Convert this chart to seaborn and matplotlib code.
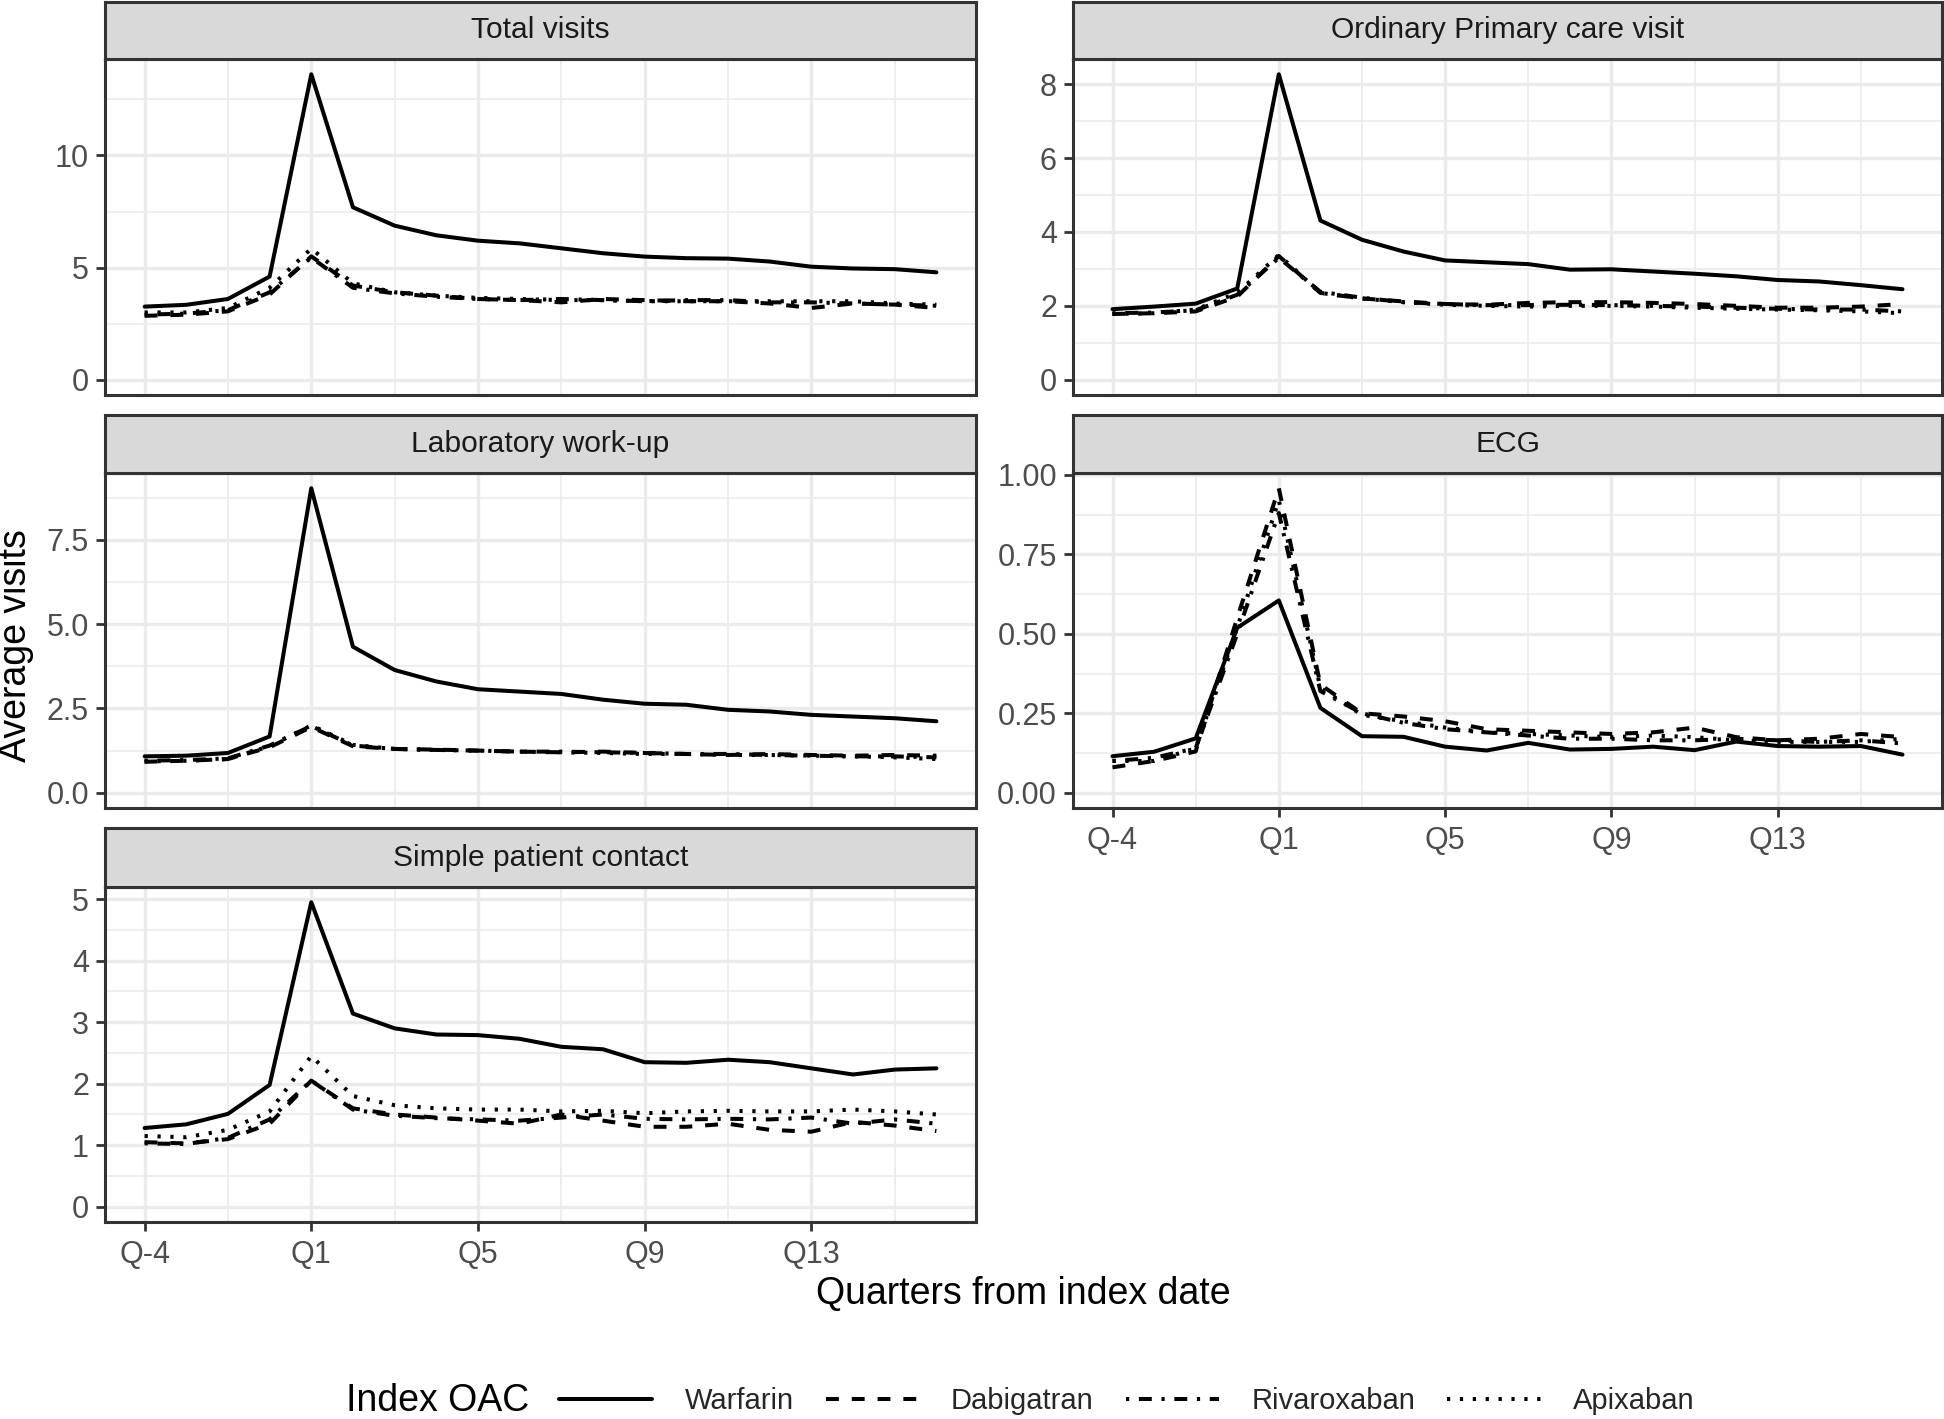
import numpy as np
import pandas as pd
import matplotlib
matplotlib.use("Agg")
import matplotlib.pyplot as plt
from matplotlib.lines import Line2D
from matplotlib.ticker import MultipleLocator, AutoMinorLocator, FixedLocator
import seaborn as sns

# ---------------- data ----------------
quarters = ["Q-4", "Q-3", "Q-2", "Q-1"] + [f"Q{i}" for i in range(1, 17)]
drugs = ["Warfarin", "Dabigatran", "Rivaroxaban", "Apixaban"]

total_warfarin = [3.26, 3.34, 3.60, 4.60, 13.62, 7.69, 6.87, 6.44, 6.20, 6.08, 5.86, 5.64, 5.49, 5.42, 5.40, 5.27, 5.04, 4.96, 4.93, 4.79]
total_dabigatran = [2.85, 2.90, 3.05, 3.80, 5.50, 4.20, 3.90, 3.75, 3.60, 3.55, 3.45, 3.60, 3.55, 3.50, 3.50, 3.40, 3.20, 3.40, 3.35, 3.20]
total_rivaroxaban = [2.90, 2.95, 3.10, 3.90, 5.45, 4.10, 3.85, 3.70, 3.60, 3.55, 3.60, 3.55, 3.50, 3.55, 3.55, 3.45, 3.45, 3.40, 3.35, 3.30]
total_apixaban = [3.00, 3.00, 3.20, 4.10, 5.85, 4.30, 3.90, 3.75, 3.65, 3.60, 3.55, 3.55, 3.50, 3.50, 3.50, 3.50, 3.50, 3.50, 3.40, 3.35]

ordinary_warfarin = [1.91, 1.98, 2.06, 2.47, 8.27, 4.31, 3.79, 3.47, 3.23, 3.18, 3.13, 2.98, 2.99, 2.93, 2.87, 2.80, 2.70, 2.66, 2.56, 2.45]
ordinary_dabigatran = [1.78, 1.80, 1.85, 2.25, 3.35, 2.35, 2.20, 2.12, 2.05, 2.03, 2.08, 2.10, 2.10, 2.08, 2.05, 2.00, 1.95, 1.95, 1.98, 2.05]
ordinary_rivaroxaban = [1.80, 1.82, 1.88, 2.30, 3.30, 2.38, 2.22, 2.10, 2.05, 2.02, 2.02, 2.03, 2.02, 2.00, 1.98, 1.95, 1.92, 1.90, 1.90, 1.85]
ordinary_apixaban = [1.78, 1.80, 1.90, 2.35, 3.38, 2.35, 2.20, 2.10, 2.03, 2.00, 1.98, 2.00, 2.00, 1.98, 1.95, 1.92, 1.90, 1.88, 1.85, 1.80]

lab_warfarin = [1.08, 1.10, 1.18, 1.67, 9.03, 4.33, 3.64, 3.30, 3.07, 3.00, 2.93, 2.76, 2.64, 2.61, 2.46, 2.41, 2.31, 2.26, 2.21, 2.12]
lab_dabigatran = [0.92, 0.95, 1.00, 1.35, 1.95, 1.38, 1.30, 1.28, 1.25, 1.22, 1.20, 1.22, 1.18, 1.15, 1.12, 1.15, 1.12, 1.10, 1.12, 1.10]
lab_rivaroxaban = [0.95, 0.97, 1.02, 1.40, 1.98, 1.40, 1.30, 1.27, 1.25, 1.22, 1.22, 1.20, 1.18, 1.15, 1.15, 1.12, 1.10, 1.08, 1.08, 1.05]
lab_apixaban = [0.93, 0.95, 1.00, 1.38, 2.00, 1.42, 1.30, 1.27, 1.25, 1.22, 1.20, 1.18, 1.15, 1.15, 1.12, 1.12, 1.10, 1.08, 1.05, 1.00]

ecg_warfarin = [0.115, 0.129, 0.171, 0.519, 0.605, 0.267, 0.178, 0.176, 0.145, 0.133, 0.157, 0.136, 0.138, 0.145, 0.134, 0.161, 0.147, 0.145, 0.147, 0.120]
ecg_dabigatran = [0.080, 0.100, 0.130, 0.550, 0.958, 0.340, 0.250, 0.240, 0.225, 0.200, 0.195, 0.190, 0.185, 0.190, 0.205, 0.175, 0.165, 0.170, 0.185, 0.175]
ecg_rivaroxaban = [0.100, 0.110, 0.140, 0.500, 0.880, 0.320, 0.250, 0.220, 0.200, 0.190, 0.180, 0.170, 0.170, 0.165, 0.165, 0.170, 0.165, 0.160, 0.165, 0.155]
ecg_apixaban = [0.100, 0.100, 0.140, 0.520, 0.920, 0.330, 0.245, 0.225, 0.205, 0.190, 0.185, 0.180, 0.175, 0.180, 0.175, 0.165, 0.160, 0.160, 0.160, 0.170]

simple_warfarin = [1.28, 1.34, 1.51, 1.98, 4.95, 3.14, 2.90, 2.80, 2.79, 2.73, 2.60, 2.56, 2.35, 2.34, 2.39, 2.35, 2.25, 2.15, 2.23, 2.25]
simple_dabigatran = [1.05, 1.03, 1.10, 1.35, 2.05, 1.60, 1.50, 1.45, 1.40, 1.35, 1.50, 1.40, 1.30, 1.30, 1.35, 1.25, 1.22, 1.38, 1.32, 1.23]
simple_rivaroxaban = [1.03, 1.02, 1.12, 1.42, 2.05, 1.58, 1.48, 1.44, 1.42, 1.40, 1.45, 1.50, 1.43, 1.42, 1.43, 1.42, 1.45, 1.35, 1.42, 1.35]
simple_apixaban = [1.15, 1.13, 1.25, 1.55, 2.45, 1.80, 1.65, 1.60, 1.58, 1.58, 1.55, 1.56, 1.52, 1.55, 1.56, 1.55, 1.55, 1.58, 1.55, 1.50]

facet_titles = ["Total visits", "Ordinary Primary care visit", "Laboratory work-up", "ECG", "Simple patient contact"]
facet_series = [
    [total_warfarin, total_dabigatran, total_rivaroxaban, total_apixaban],
    [ordinary_warfarin, ordinary_dabigatran, ordinary_rivaroxaban, ordinary_apixaban],
    [lab_warfarin, lab_dabigatran, lab_rivaroxaban, lab_apixaban],
    [ecg_warfarin, ecg_dabigatran, ecg_rivaroxaban, ecg_apixaban],
    [simple_warfarin, simple_dabigatran, simple_rivaroxaban, simple_apixaban],
]
y_major_steps = [5, 2, 2.5, 0.25, 1]
y_label_fmt = ["{:g}", "{:g}", "{:.1f}", "{:.2f}", "{:g}"]

# ---------------- style ----------------
sns.set_style("white")
plt.rcParams["font.family"] = ["Liberation Sans", "DejaVu Sans"]

W, H, DPI = 1944, 1419, 200
fig = plt.figure(figsize=(W / DPI, H / DPI), dpi=DPI)

LW = 1.45
dash_map = {
    "Warfarin": "",
    "Dabigatran": (3.2, 3.2),
    "Rivaroxaban": (0.8, 2.4, 3.2, 2.4),
    "Apixaban": (0.8, 2.4),
}
BORDER = "#333333"
GRID = "#EBEBEB"
TICKTXT = "#4D4D4D"
TICK_FS = 11
STRIP_FS = 10.8
LEG_FS = 10.5

cols_x = [(105, 976), (1073, 1942)]
rows_y = [(2, 59, 395), (415, 473, 808), (828, 887, 1222)]
layout = [(0, 0), (0, 1), (1, 0), (1, 1), (2, 0)]
show_x = [False, False, False, True, True]

x_idx = np.arange(len(quarters))

def fx(px):
    return px / W

def fy(py):
    return 1 - py / H

for i, title in enumerate(facet_titles):
    r, c = layout[i]
    x0, x1 = cols_x[c]
    st, sb, pb = rows_y[r]
    ax = fig.add_axes([fx(x0), fy(pb), (x1 - x0) / W, (pb - sb) / H])
    sax = fig.add_axes([fx(x0), fy(sb), (x1 - x0) / W, (sb - st) / H])

    series = facet_series[i]
    df = pd.DataFrame({
        "x": np.tile(x_idx, len(drugs)),
        "value": np.concatenate([np.asarray(s, float) for s in series]),
        "drug": np.repeat(drugs, len(quarters)),
    })
    sns.lineplot(data=df, x="x", y="value", style="drug", style_order=drugs,
                 dashes=dash_map, color="black", linewidth=LW, legend=False,
                 ax=ax, errorbar=None)
    for ln in ax.get_lines():
        ln.set_dash_capstyle("butt")
        ln.set_solid_joinstyle("round")

    ymax = df["value"].max()
    ax.set_ylim(-0.05 * ymax, ymax * 1.05)
    n = len(quarters) - 1
    ax.set_xlim(-0.05 * n, n * 1.05)

    step = y_major_steps[i]
    ax.yaxis.set_major_locator(MultipleLocator(step))
    ax.yaxis.set_minor_locator(AutoMinorLocator(2))
    fmt = y_label_fmt[i]
    ax.yaxis.set_major_formatter(matplotlib.ticker.FuncFormatter(lambda v, p, f=fmt: f.format(v) if abs(v) > 1e-9 else f.format(0.0)))

    ax.xaxis.set_major_locator(FixedLocator(x_idx[::4]))
    ax.xaxis.set_minor_locator(FixedLocator(x_idx[2::4]))
    ax.set_xticklabels(quarters[::4])

    ax.grid(which="major", color=GRID, linewidth=1.2)
    ax.grid(which="minor", color=GRID, linewidth=0.6)
    ax.set_axisbelow(True)
    ax.set_xlabel("")
    ax.set_ylabel("")
    for sp in ax.spines.values():
        sp.set_color(BORDER)
        sp.set_linewidth(1.1)
        sp.set_visible(True)

    ax.tick_params(axis="y", which="major", length=3.4, width=1.0, color=BORDER,
                   labelsize=TICK_FS, labelcolor=TICKTXT, pad=2.4, left=True)
    ax.tick_params(which="minor", length=0)
    if show_x[i]:
        ax.tick_params(axis="x", which="major", length=3.4, width=1.0, color=BORDER,
                       labelsize=TICK_FS, labelcolor=TICKTXT, pad=3, bottom=True)
    else:
        ax.tick_params(axis="x", which="major", length=0, labelbottom=False)

    sax.set_facecolor("#D9D9D9")
    sax.set_xticks([])
    sax.set_yticks([])
    for sp in sax.spines.values():
        sp.set_color(BORDER)
        sp.set_linewidth(1.1)
        sp.set_visible(True)
    sax.text(0.5, 0.5, title, ha="center", va="center", fontsize=STRIP_FS,
             color="#1A1A1A", transform=sax.transAxes)

# axis titles
fig.text(fx(16), fy(646), "Average visits", rotation=90, ha="center", va="center",
         fontsize=13.5, color="black")
fig.text(fx(1023), fy(1294), "Quarters from index date", ha="center", va="center",
         fontsize=13.5, color="black")

# legend
handles = [Line2D([], [], color="black", linewidth=LW,
                  linestyle=("-" if dash_map[d] == "" else (0, dash_map[d])),
                  dash_capstyle="butt") for d in drugs]
fig.text(fx(346), fy(1401), "Index OAC", ha="left", va="center", fontsize=13.5, color="black")
leg = fig.legend(handles, drugs, ncol=4, loc="center left",
                 bbox_to_anchor=(fx(559), fy(1401)), frameon=False,
                 fontsize=LEG_FS, handlelength=3.2, handletextpad=1.1,
                 columnspacing=1.1, borderpad=0, borderaxespad=0)

fig.savefig("out.png", dpi=DPI)
